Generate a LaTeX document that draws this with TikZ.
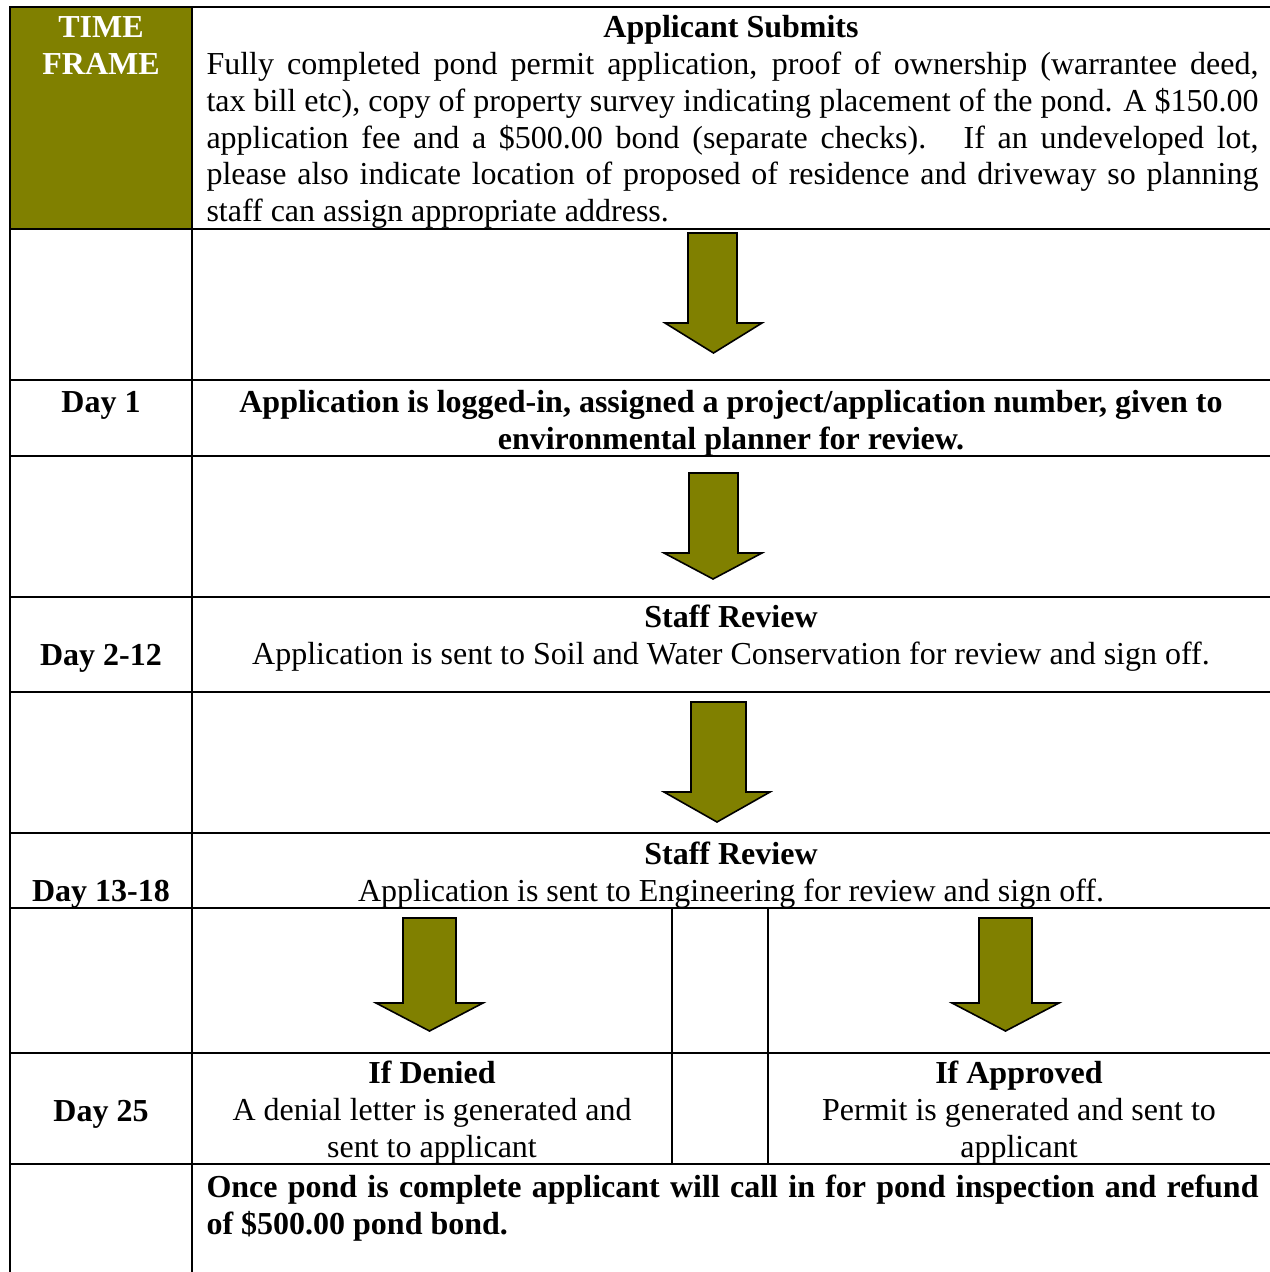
\documentclass[tikz,border=0pt]{standalone}
\usepackage{fontspec}
\setmainfont{Liberation Serif}
\usepackage{xcolor}
\usetikzlibrary{positioning}
\definecolor{pondolive}{HTML}{808000}

% block arrow: shaft left, shaft right, head left, head right, top, shoulder, tip
\newcommand{\olivearrow}[7]{%
  \draw[blockarrow] (#1,#5) -- (#2,#5) -- (#2,#6) -- (#4,#6) -- ({(#3+#4)/2},#7)
    -- (#3,#6) -- (#1,#6) -- cycle;}

\begin{document}
\begin{tikzpicture}[x=0.375pt, y=-0.375pt,
    font=\fontsize{12}{13.8}\selectfont,
    rule/.style={line width=0.75pt, line cap=rect},
    blockarrow/.style={fill=pondolive, draw=black, line width=0.6pt, line join=miter},
    single/.style={inner sep=0pt, anchor=base},
    multi/.style={inner sep=0pt, anchor=north, align=center},
    para/.style={inner sep=0pt, anchor=north west, text width=394.5pt, align=justify},
    daylabel/.style={single, font=\fontsize{12}{13.8}\selectfont\bfseries}]
    \useasboundingbox (0,0) rectangle (1270,1272);

    % Header cell
    \fill[pondolive] (10,7) rectangle (192,229);
    \node[multi, text=white, font=\fontsize{12}{13.8}\selectfont\bfseries] (timeframe) at (101,11.2) {\strut TIME\\FRAME};

    % Table rules
    \foreach \y in {7,229,380,456,597,692,833,908,1053,1164}
        \draw[rule] (10,\y) -- (1270,\y);
    \draw[rule] (10,7) -- (10,1272);
    \draw[rule] (192,7) -- (192,1272);
    \draw[rule] (672,908) -- (672,1164);
    \draw[rule] (768,908) -- (768,1164);

    % Applicant submits
    \node[single, font=\fontsize{12}{13.8}\selectfont\bfseries] (submits) at (731,37) {Applicant Submits};
    \node[para] (submitstext) at (206,48.2) {\strut Fully completed pond permit application, proof of ownership (warrantee deed,\linebreak
        tax bill etc), copy of property survey indicating placement of the pond. A \$150.00\linebreak
        application fee and a \$500.00 bond (separate checks).~ If an undeveloped lot,\linebreak
        please also indicate location of proposed of residence and driveway so planning\linebreak
        staff can assign appropriate address.};

    % Day 1
    \node[daylabel] (day1) at (101,412) {Day 1};
    \node[multi, font=\fontsize{12}{13.8}\selectfont\bfseries] (logged) at (731,386.2)
        {\strut Application is logged-in, assigned a project/application number, given to\\environmental planner for review.};

    % Day 2-12
    \node[daylabel] (day2) at (101,665) {Day 2-12};
    \node[single, font=\fontsize{12}{13.8}\selectfont\bfseries] (review1) at (731,627) {Staff Review};
    \node[single] (soil) at (731,664) {Application is sent to Soil and Water Conservation for review and sign off.};

    % Day 13-18
    \node[daylabel] (day13) at (101,901) {Day 13-18};
    \node[single, font=\fontsize{12}{13.8}\selectfont\bfseries] (review2) at (731,864) {Staff Review};
    \node[single] (engineering) at (731,901) {Application is sent to Engineering for review and sign off.};

    % Day 25
    \node[daylabel] (day25) at (101,1121) {Day 25};
    \node[single, font=\fontsize{12}{13.8}\selectfont\bfseries] (denied) at (432,1083) {If Denied};
    \node[multi] (deniedtext) at (432,1094.2) {\strut A denial letter is generated and\\sent to applicant};
    \node[single, font=\fontsize{12}{13.8}\selectfont\bfseries] (approved) at (1019,1083) {If Approved};
    \node[multi] (approvedtext) at (1019,1094.2) {\strut Permit is generated and sent to\\applicant};

    % Inspection and refund
    \node[para, font=\fontsize{12}{13.8}\selectfont\bfseries] (refund) at (206,1171.2)
        {\strut Once pond is complete applicant will call in for pond inspection and refund\linebreak of \$500.00 pond bond.};

    % Arrows
    \olivearrow{688}{737}{665}{762}{233}{323}{353}
    \olivearrow{689}{738}{664}{762}{473}{553}{579}
    \olivearrow{691}{746}{664}{770}{702}{792}{822}
    \olivearrow{403}{456}{376}{483}{918}{1003}{1031}
    \olivearrow{979}{1032}{952}{1059}{918}{1003}{1031}
\end{tikzpicture}
\end{document}
